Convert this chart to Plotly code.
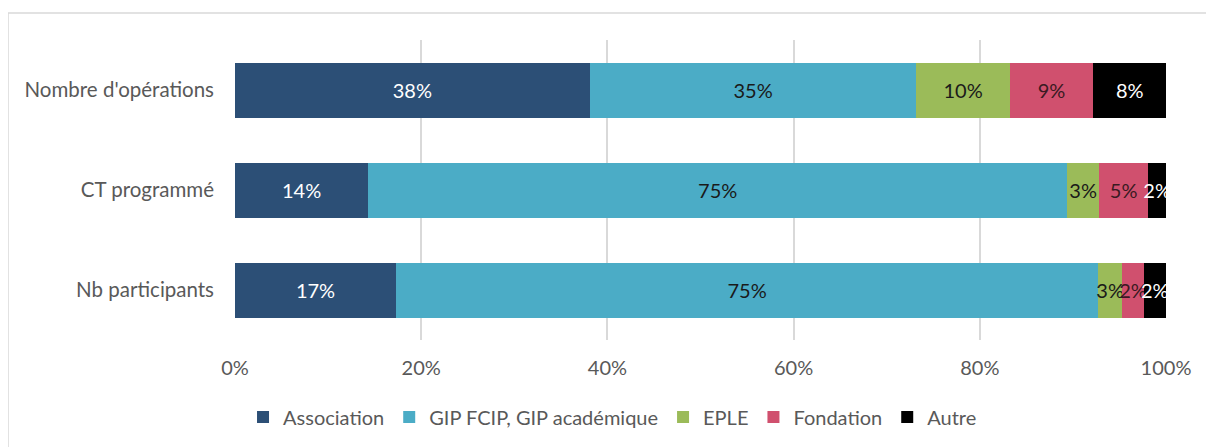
import plotly.graph_objects as go

categories = ["Nombre d'opérations", "CT programmé", "Nb participants"]
series_names = ["Association", "GIP FCIP, GIP académique", "EPLE", "Fondation", "Autre"]
association = [38.1, 14.3, 17.3]
gip = [35.1, 75.1, 75.4]
eple = [10.0, 3.4, 2.6]
fondation = [9.0, 5.3, 2.3]
autre = [7.8, 1.9, 2.4]
tick_vals = [0, 20, 40, 60, 80, 100]
tick_text = ["0%", "20%", "40%", "60%", "80%", "100%"]

colors = ["#2C4F76", "#4BACC6", "#9BBB59", "#D0506E", "#000000"]
text_colors = ["white", "#1a1a1a", "#1a1a1a", "#3a1a22", "white"]
values = [association, gip, eple, fondation, autre]

FONT = "Lato, Carlito, Calibri, sans-serif"
FS = 20

# page body has an 8px margin: compensate so the plot sits where the reference has it
L, T, PW, PH = 227, 32, 931, 300

fig = go.Figure()
for name, vals, col, tcol in zip(series_names, values, colors, text_colors):
    fig.add_trace(go.Bar(
        y=categories, x=vals, name=name, orientation="h",
        marker=dict(color=col, line=dict(width=0)),
        text=[f"{round(v):.0f}%" for v in vals],
        textposition="inside", insidetextanchor="middle",
        constraintext="none", textangle=0,
        textfont=dict(color=tcol, size=FS, family=FONT),
        width=0.55,
        hoverinfo="skip",
    ))

fig.update_layout(
    barmode="stack",
    width=1214, height=447,
    margin=dict(l=L, r=1214 - L - PW, t=T, b=447 - T - PH),
    paper_bgcolor="white", plot_bgcolor="white",
    font=dict(family=FONT, size=FS, color="#595959"),
    uniformtext=dict(minsize=FS, mode="show"),
    xaxis=dict(range=[0, 100], tickvals=tick_vals, ticktext=tick_text,
               showgrid=True, gridcolor="#D9D9D9", gridwidth=1.5,
               zeroline=False, showline=False, ticks="",
               ticklabelstandoff=14,
               tickfont=dict(size=FS, color="#595959")),
    yaxis=dict(categoryorder="array", categoryarray=categories[::-1],
               autorange=True, showgrid=False, zeroline=False, ticks="",
               ticklabelstandoff=20,
               tickfont=dict(size=20.5, color="#595959")),
    legend=dict(orientation="h", x=0.4055, xanchor="center", y=-0.257, yanchor="middle",
                font=dict(size=FS, color="#595959"), traceorder="normal",
                itemwidth=30, itemsizing="constant"),
    showlegend=True,
    shapes=[dict(type="rect", xref="paper", yref="paper",
                 x0=(0 - L) / PW, x1=(1205 - L) / PW,
                 y0=-0.5, y1=(T + PH - 5) / PH,
                 line=dict(color="#D9D9D9", width=1.5), layer="below")],
)

fig.write_html("out.html")
